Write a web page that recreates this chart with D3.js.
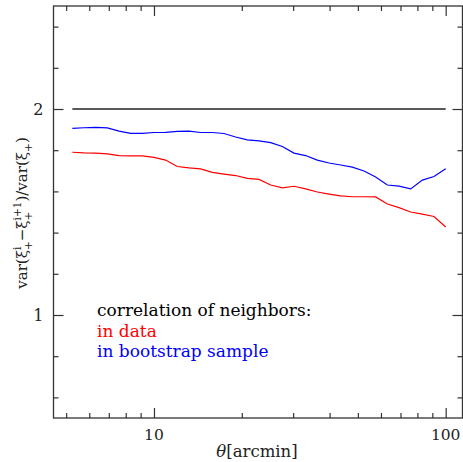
<!DOCTYPE html>
<html>
<head>
<meta charset="utf-8">
<script src="https://cdn.jsdelivr.net/npm/d3@7"></script>
<style>
  body { margin: 0; background: #fff; }
  text { font-family: "DejaVu Serif", "Liberation Serif", serif; }
</style>
</head>
<body>
<div id="chart"></div>
<script>
// angular bins (arcmin)
const theta = [5.25, 5.75, 6.31, 6.92, 7.59, 8.32, 9.12, 10.0, 10.96, 12.02, 13.18,
  14.45, 15.85, 17.38, 19.05, 20.89, 22.91, 25.12, 27.54, 30.2, 33.11, 36.31,
  39.81, 43.65, 47.86, 52.48, 57.54, 63.1, 69.18, 75.86, 83.18, 91.2, 100];

// variance ratio, neighbors in data
const inData = [1.790, 1.787, 1.786, 1.782, 1.774, 1.772, 1.772, 1.765, 1.752, 1.721, 1.714,
  1.709, 1.692, 1.684, 1.677, 1.663, 1.658, 1.631, 1.617, 1.625, 1.612, 1.597,
  1.587, 1.578, 1.574, 1.574, 1.573, 1.539, 1.521, 1.500, 1.490, 1.478, 1.427];

// variance ratio, neighbors in bootstrap sample
const inBootstrap = [1.906, 1.909, 1.911, 1.908, 1.893, 1.882, 1.882, 1.886, 1.887, 1.891, 1.893,
  1.886, 1.886, 1.881, 1.864, 1.850, 1.845, 1.837, 1.818, 1.786, 1.774, 1.752,
  1.738, 1.728, 1.718, 1.699, 1.670, 1.631, 1.626, 1.612, 1.655, 1.672, 1.710];

const xMajor = [10, 100];
const xMinor = [5, 6, 7, 8, 9, 20, 30, 40, 50, 60, 70, 80, 90];
const yMajor = [1, 2];
const yMinor = [0.6, 0.8, 1.2, 1.4, 1.6, 1.8, 2.2, 2.4];
const legendLines = [
  { text: "correlation of neighbors:", color: "#000" },
  { text: "in data", color: "#ff0000" },
  { text: "in bootstrap sample", color: "#0000ff" }
];

const margin = { top: 6, right: 0.5, bottom: 44, left: 53.5 },
  width = 463 - margin.left - margin.right,
  height = 462 - margin.top - margin.bottom;

const svg = d3.select("#chart")
  .append("svg")
  .attr("width", 463)
  .attr("height", 462)
  .append("g")
  .attr("transform", `translate(${margin.left}, ${margin.top})`);

const x = d3.scaleLog().domain([4.524, 114.2]).range([0, width]);
const y = d3.scaleLinear().domain([0.5, 2.5]).range([height, 0]);

const frameColor = "#333";

// reference line at 2
svg.append("line")
  .attr("x1", x(theta[0]))
  .attr("x2", x(theta[theta.length - 1]))
  .attr("y1", y(2)).attr("y2", y(2))
  .attr("stroke", "#222")
  .attr("stroke-width", 1.4);

const line = d3.line()
  .x((d, i) => x(theta[i]))
  .y(d => y(d));

svg.append("path")
  .attr("d", line(inBootstrap))
  .attr("fill", "none")
  .attr("stroke", "#0000ff")
  .attr("stroke-width", 1.2);

svg.append("path")
  .attr("d", line(inData))
  .attr("fill", "none")
  .attr("stroke", "#ff0000")
  .attr("stroke-width", 1.2);

// axes with inward ticks on all four sides
function addAxis(axis, transform) {
  const g = svg.append("g").attr("transform", transform).call(axis);
  g.selectAll("path, line").attr("stroke", frameColor).attr("stroke-width", 1.2);
  g.select(".domain").remove();
  return g;
}

const noLabel = () => "";
addAxis(d3.axisBottom(x).tickValues(xMajor).tickSizeInner(-10).tickSizeOuter(0).tickFormat(noLabel), `translate(0,${height})`);
addAxis(d3.axisBottom(x).tickValues(xMinor).tickSizeInner(-5).tickSizeOuter(0).tickFormat(noLabel), `translate(0,${height})`);
addAxis(d3.axisTop(x).tickValues(xMajor).tickSizeInner(-10).tickSizeOuter(0).tickFormat(noLabel), "translate(0,0)");
addAxis(d3.axisTop(x).tickValues(xMinor).tickSizeInner(-5).tickSizeOuter(0).tickFormat(noLabel), "translate(0,0)");
addAxis(d3.axisLeft(y).tickValues(yMajor).tickSizeInner(-10).tickSizeOuter(0).tickFormat(noLabel), "translate(0,0)");
addAxis(d3.axisLeft(y).tickValues(yMinor).tickSizeInner(-5).tickSizeOuter(0).tickFormat(noLabel), "translate(0,0)");
addAxis(d3.axisRight(y).tickValues(yMajor).tickSizeInner(-10).tickSizeOuter(0).tickFormat(noLabel), `translate(${width},0)`);
addAxis(d3.axisRight(y).tickValues(yMinor).tickSizeInner(-5).tickSizeOuter(0).tickFormat(noLabel), `translate(${width},0)`);

// frame
svg.append("rect")
  .attr("width", width).attr("height", height)
  .attr("fill", "none")
  .attr("stroke", frameColor)
  .attr("stroke-width", 1.3);

// tick labels
svg.selectAll(".xlab")
  .data(xMajor)
  .enter().append("text")
  .attr("x", d => x(d))
  .attr("y", height + 22)
  .attr("text-anchor", "middle")
  .style("font-size", "15.5px")
  .style("fill", "#222")
  .text(d => d);

svg.selectAll(".ylab")
  .data(yMajor)
  .enter().append("text")
  .attr("x", -10)
  .attr("y", d => y(d) + 6)
  .attr("text-anchor", "end")
  .style("font-size", "16px")
  .style("fill", "#222")
  .text(d => d);

// x title
const xt = svg.append("text")
  .attr("x", 257 - margin.left)
  .attr("y", height + 39)
  .attr("text-anchor", "middle")
  .style("font-size", "16.5px")
  .style("fill", "#222");
xt.append("tspan").style("font-style", "italic").text("θ");
xt.append("tspan").text("[arcmin]");

// y title, laid out piece by piece so sub/superscripts can stack
const yg = svg.append("g")
  .attr("transform", `translate(${27 - margin.left},${213 - margin.top}) rotate(-90)`);
const big = 15, small = 10.5;
const pieces = [
  { t: "var(ξ", s: big, dy: 0 },
  { t: "i", s: small, dy: -6.5, stack: true },
  { t: "+", s: small, dy: 4.5 },
  { t: "−ξ", s: big, dy: 0 },
  { t: "i+1", s: small, dy: -6.5, stack: true },
  { t: "+", s: small, dy: 4.5 },
  { t: ")/var(ξ", s: big, dy: 0 },
  { t: "+", s: small, dy: 4.5 },
  { t: ")", s: big, dy: 0 }
];
let cx = 0, stackStart = null, stackW = 0;
pieces.forEach(p => {
  const px = stackStart !== null ? stackStart : cx;
  const el = yg.append("text")
    .attr("x", px)
    .attr("y", p.dy)
    .style("font-size", p.s + "px")
    .style("fill", "#222")
    .text(p.t);
  const w = el.node().getComputedTextLength();
  if (p.stack) {
    stackStart = cx;
    stackW = w;
  } else if (stackStart !== null) {
    cx = stackStart + Math.max(w, stackW);
    stackStart = null;
  } else {
    cx += w;
  }
});
yg.selectAll("text").attr("transform", `translate(${-cx / 2},0)`);

// legend
svg.selectAll(".leg")
  .data(legendLines)
  .enter().append("text")
  .attr("x", 97 - margin.left)
  .attr("y", (d, i) => 316 - margin.top + i * 20.5)
  .style("font-size", "17px")
  .style("fill", d => d.color)
  .text(d => d.text);
</script>
</body>
</html>
